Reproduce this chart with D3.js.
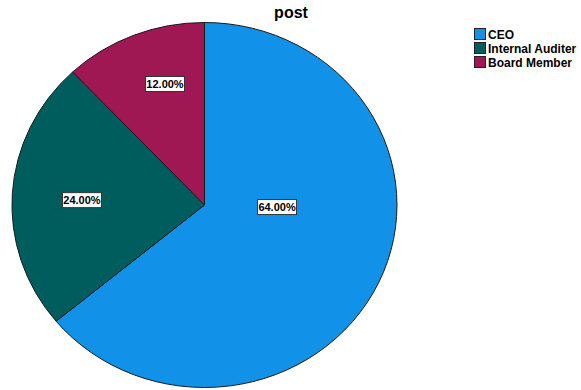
<!DOCTYPE html>
<html>
<head>
<meta charset="utf-8">
<script src="https://cdn.jsdelivr.net/npm/d3@7"></script>
<style>
  html, body { margin: 0; padding: 0; background: #fff; }
  svg { display: block; }
  text { font-family: "Liberation Sans", Arial, sans-serif; font-weight: bold; }
</style>
</head>
<body>
<svg id="chart" width="581" height="390"></svg>
<script>
// Share of respondents by post
const categories = ["CEO", "Internal Auditer", "Board Member"];
const percents = [64, 24, 12];
const colors = ["#1192e8", "#005d5d", "#9f1853"];
const title = "post";

// Label anchors in polar form (degrees clockwise from 12 o'clock, fraction of radius)
const labelAnchors = [[91.7, 0.377], [272.4, 0.637], [342.8, 0.694]];

const svg = d3.select("#chart");

// Slightly elliptical pie
const cx = 204.5, cy = 205, rx = 192.5, ry = 182.5;

const pie = d3.pie().sort(null).value(d => d.value).startAngle(0).endAngle(2 * Math.PI);
const data = categories.map((c, i) => ({ name: c, value: percents[i], color: colors[i] }));
const arcs = pie(data);

const arc = d3.arc().innerRadius(0).outerRadius(1);

const g = svg.append("g").attr("transform", `translate(${cx},${cy}) scale(${rx},${ry})`);
g.selectAll("path.slice")
  .data(arcs)
  .enter().append("path")
  .attr("class", "slice")
  .attr("d", arc)
  .attr("fill", d => d.data.color)
  .attr("stroke", "#1a1a1a")
  .attr("stroke-width", 1)
  .attr("vector-effect", "non-scaling-stroke")
  .attr("stroke-linejoin", "round");

// Percentage labels in boxed tags
const fmt = d3.format(".2f");
const labels = svg.append("g");
arcs.forEach((a, i) => {
  const [deg, frac] = labelAnchors[i];
  const t = deg * Math.PI / 180;
  const x = cx + Math.sin(t) * rx * frac;
  const y = cy - Math.cos(t) * ry * frac;
  const lg = labels.append("g").attr("transform", `translate(${x},${y})`);
  lg.append("rect")
    .attr("x", -19.5).attr("y", -7.5)
    .attr("width", 39).attr("height", 15)
    .attr("fill", "#fff")
    .attr("stroke", "#333")
    .attr("stroke-width", 1);
  lg.append("text")
    .attr("text-anchor", "middle")
    .attr("y", 4)
    .attr("font-size", 11)
    .attr("fill", "#000")
    .text(fmt(a.data.value) + "%");
});

// Title
svg.append("text")
  .attr("x", 291).attr("y", 18)
  .attr("text-anchor", "middle")
  .attr("font-size", 16)
  .attr("fill", "#000")
  .text(title);

// Legend
const legend = svg.append("g").attr("transform", "translate(474,28)");
const row = legend.selectAll("g")
  .data(data)
  .enter().append("g")
  .attr("transform", (d, i) => `translate(0,${i * 14})`);
row.append("rect")
  .attr("x", 0.5).attr("y", 0.5)
  .attr("width", 11).attr("height", 11)
  .attr("fill", d => d.color)
  .attr("stroke", "#222")
  .attr("stroke-width", 1);
row.append("text")
  .attr("x", 14).attr("y", 11)
  .attr("font-size", 12)
  .attr("fill", "#000")
  .text(d => d.name);
</script>
</body>
</html>
